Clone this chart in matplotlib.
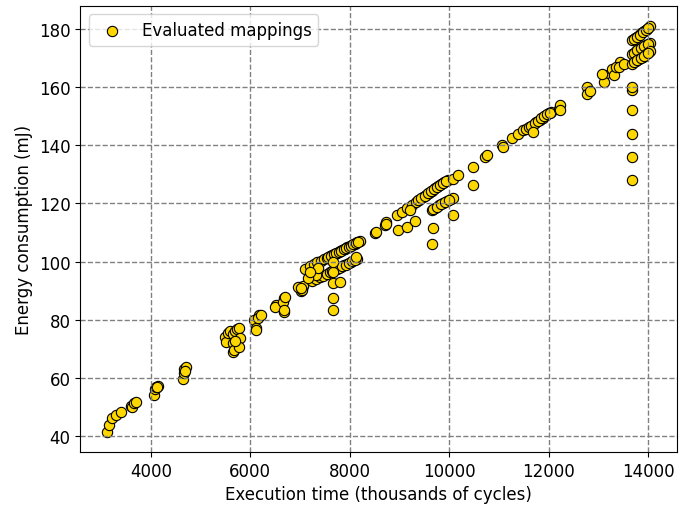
import matplotlib
matplotlib.use("Agg")
import matplotlib.pyplot as plt
import numpy as np

# execution time (thousands of cycles) / energy (mJ) per cluster
x_low = [3127, 3160, 3226, 3294, 3395, 3600, 3631, 3665, 3700]
y_low = [41.6, 43.9, 46.3, 47.3, 48.5, 50.5, 50.2, 51.3, 51.8]

x_4k = [4070, 4080, 4110, 4140, 4120, 4650, 4660, 4670, 4700, 4690]
y_4k = [54.3, 56.3, 56.8, 57.3, 57.0, 59.8, 61.6, 63.2, 63.8, 62.5]

x_5k = [5500, 5520, 5560, 5600, 5647, 5647, 5647, 5680, 5700, 5740, 5780, 5800, 5780, 5700]
y_5k = [74.2, 72.5, 75.5, 76.0, 75.3, 71.9, 69.1, 69.5, 76.3, 76.8, 77.1, 73.6, 70.8, 72.8]

x_6k = [6083, 6117, 6184, 6150, 6210, 6120, 6520, 6490, 6687, 6687, 6654, 6700, 6670,
        6990, 7056, 7020, 7040]
y_6k = [79.9, 77.1, 81.6, 80.8, 81.8, 76.5, 85.1, 84.5, 87.4, 82.8, 86.0, 88.0, 83.5,
        90.8, 91.6, 89.8, 90.2]

x_7k = [7100, 7200, 7280, 7350, 7420, 7480, 7540, 7600, 7650, 7700, 7750, 7800, 7850,
        7900, 7950, 8000, 8050, 8100, 8150, 8200,
        7570, 7625, 7675, 7725, 7775, 7825, 7875, 7925, 7975, 8025, 8075, 8125, 8175,
        7250, 7330, 7400, 7470, 7540, 7600, 7680, 7750, 7820, 7880, 7950, 8020, 8080, 8140,
        7640, 7715, 7785, 7850, 7915, 7985, 8050, 8110,
        7661, 7661, 7661, 7661, 7661, 7797, 7326, 7360, 7158, 7192, 6957, 7024, 8133]
y_7k = [97.5, 98.4, 99.1, 99.7, 100.3, 100.8, 101.3, 101.8, 102.3, 102.7, 103.1, 103.6, 104.0,
        104.4, 104.9, 105.3, 105.7, 106.2, 106.6, 107.0,
        101.6, 102.0, 102.5, 102.9, 103.3, 103.8, 104.2, 104.6, 105.1, 105.5, 106.0, 106.4, 106.8,
        93.3, 94.0, 94.6, 95.2, 95.8, 96.3, 97.0, 97.6, 98.2, 98.7, 99.3, 99.9, 100.4, 100.9,
        96.7, 97.3, 97.9, 98.5, 99.0, 99.6, 100.1, 100.6,
        83.4, 87.4, 92.5, 96.5, 100.0, 93.1, 95.4, 97.7, 94.2, 96.5, 91.4, 90.8, 101.7]

x_9k = [8501, 8703, 8737, 8520, 8720,
        8950, 9050, 9150, 9250, 9330, 9400, 9470, 9540, 9600, 9660, 9720, 9780, 9840, 9900, 9970,
        9365, 9435, 9505, 9570, 9630, 9690, 9750, 9810, 9870, 9935,
        9645, 9720, 9800, 9880, 9950, 10030, 10080,
        9680, 9760, 9840, 9915, 9990,
        8972, 9141, 9308, 9208, 9678, 9645, 10082]
y_9k = [109.7, 112.5, 113.7, 110.3, 113.0,
        116.0, 117.2, 118.4, 119.6, 120.5, 121.3, 122.2, 123.0, 123.7, 124.4, 125.2, 125.9, 126.6, 127.3, 128.1,
        121.0, 121.8, 122.6, 123.4, 124.1, 124.8, 125.5, 126.3, 127.0, 127.7,
        117.7, 118.5, 119.3, 120.1, 120.8, 121.5, 121.7,
        118.1, 118.9, 119.7, 120.4, 121.1,
        110.8, 112.0, 113.9, 117.7, 111.4, 106.2, 116.0]

x_11k = [10080, 10181, 10483, 10483, 10718, 10750, 11056, 11089,
         11258, 11391, 11492, 11550, 11600, 11680, 11750, 11820, 11880, 11940, 12000, 12040,
         11640, 11715, 11785, 11850, 11910, 11970, 12020,
         11694, 12200, 12232, 12232]
y_11k = [128.5, 129.7, 132.6, 126.3, 136.0, 136.5, 140.0, 139.4,
         142.3, 144.0, 145.1, 145.5, 146.2, 147.0, 147.9, 148.8, 149.5, 150.3, 151.0, 151.5,
         146.6, 147.5, 148.4, 149.2, 149.9, 150.6, 151.2,
         144.6, 152.5, 153.7, 152.0]

x_13k = [12770, 12770, 12830, 13105, 13105, 13070, 13272, 13306, 13440, 13440, 13350, 13407, 13509,
         13677, 13677, 13677, 13677, 13677, 13677,
         13680, 13740, 13800, 13860, 13920, 13980, 14030,
         13710, 13770, 13830, 13890, 13950, 14005,
         13680, 13750, 13820, 13890, 13960, 14030,
         13715, 13785, 13855, 13925, 13995,
         13680, 13750, 13820, 13890, 13960, 14030,
         13715, 13785, 13855, 13925, 13995]
y_13k = [160.0, 157.7, 158.5, 164.0, 161.8, 164.6, 166.3, 164.0, 168.0, 168.5, 167.0, 166.9, 168.0,
         128.0, 136.0, 144.0, 152.0, 159.0, 160.0,
         176.0, 176.8, 177.6, 178.4, 179.2, 180.0, 180.8,
         176.4, 177.2, 178.0, 178.8, 179.6, 180.4,
         171.4, 172.2, 173.0, 173.7, 174.4, 175.0,
         171.8, 172.6, 173.4, 174.0, 174.7,
         168.0, 168.8, 169.6, 170.4, 171.2, 172.2,
         168.4, 169.2, 170.0, 170.8, 171.7]

exec_time = np.array(x_low + x_4k + x_5k + x_6k + x_7k + x_9k + x_11k + x_13k)
energy = np.array(y_low + y_4k + y_5k + y_6k + y_7k + y_9k + y_11k + y_13k)

plt.rcParams['font.size'] = 12
fig, ax = plt.subplots(figsize=(6.92, 5.10), dpi=100)
fig.subplots_adjust(left=0.116, right=0.978, top=0.986, bottom=0.112)

ax.scatter(exec_time, energy, s=55, c='#FFD700', edgecolors='black', linewidths=0.8,
           label='Evaluated mappings')
ax.grid(True, linestyle='--', color='gray', linewidth=1)
ax.set_xlabel('Execution time (thousands of cycles)')
ax.set_ylabel('Energy consumption (mJ)')
ax.legend(loc='upper left')

fig.savefig('out.png')
